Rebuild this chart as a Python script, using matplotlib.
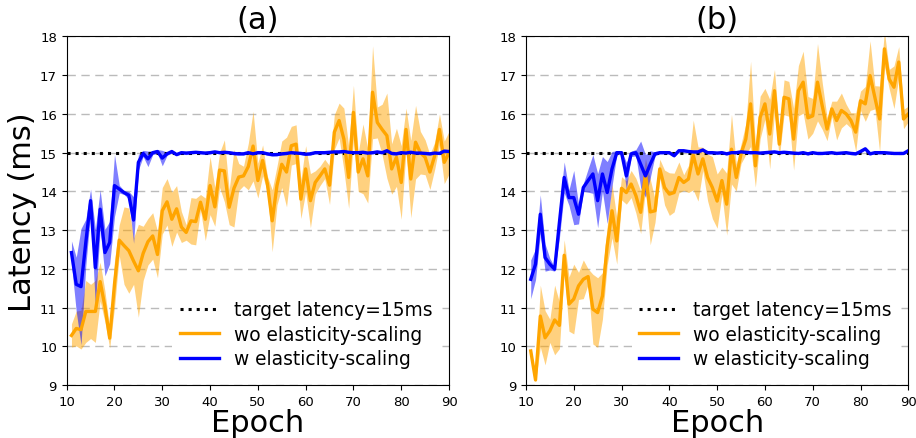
import numpy as np
import matplotlib
matplotlib.use('Agg')
import matplotlib.pyplot as plt

epochs = list(range(11, 91))
target = 15

# panel (a)
a_w = [12.42, 11.6, 11.54, 12.68, 13.76, 12.03, 13.54, 12.42, 12.68, 14.15,
       14.06, 13.97, 13.9, 13.26, 14.75, 14.98, 14.84, 15.0, 15.03, 14.86,
       14.97, 15.03, 14.95, 15.0, 14.99, 15.0, 15.01, 15.0, 14.99, 15.0,
       15.02, 15.0, 15.01, 15.0, 14.98, 14.97, 14.97, 15.0, 14.97, 15.0,
       15.0, 14.97, 14.95, 14.95, 14.97, 14.98, 15.0, 14.99, 14.98, 14.96,
       14.97, 15.0, 15.0, 15.0, 15.01, 15.02, 15.02, 15.03, 15.01, 15.0,
       15.0, 15.01, 14.99, 15.0, 15.02, 15.0, 15.05, 14.98, 14.97, 15.0,
       14.99, 15.01, 14.99, 14.99, 14.98, 14.97, 14.99, 14.98, 15.04, 15.03]
a_w_std = [0.3, 0.7, 1.5, 0.6, 0.3, 1.0, 0.5, 0.6, 0.55, 0.8,
           0.1, 0.05, 0.1, 0.6, 0.2, 0.08, 0.2, 0.05, 0.05, 0.2,
           0.04, 0.04, 0.03, 0.03, 0.04, 0.03, 0.03, 0.03, 0.03, 0.03,
           0.03, 0.03, 0.03, 0.03, 0.04, 0.03, 0.03, 0.03, 0.03, 0.03,
           0.03, 0.04, 0.04, 0.03, 0.03, 0.03, 0.03, 0.03, 0.03, 0.03,
           0.03, 0.03, 0.03, 0.03, 0.03, 0.03, 0.03, 0.04, 0.03, 0.03,
           0.03, 0.03, 0.03, 0.03, 0.03, 0.03, 0.04, 0.03, 0.03, 0.03,
           0.03, 0.03, 0.03, 0.03, 0.03, 0.03, 0.03, 0.03, 0.04, 0.03]
a_wo = [10.28, 10.46, 10.43, 10.9, 10.9, 10.9, 11.67, 11.03, 10.21, 11.6,
        12.74, 12.6, 12.47, 12.2, 11.95, 12.4, 12.7, 12.85, 12.37, 13.5,
        13.73, 13.28, 13.55, 13.08, 12.94, 13.24, 13.22, 13.72, 13.28, 14.15,
        13.6, 14.55, 14.53, 13.59, 14.08, 14.37, 14.4, 14.64, 15.17, 14.28,
        14.8, 14.19, 13.24, 14.15, 14.7, 14.5, 15.18, 15.22, 13.8, 14.58,
        13.76, 14.23, 14.4, 14.58, 14.16, 15.53, 15.83, 15.35, 14.36, 16.04,
        14.5, 14.84, 14.4, 16.56, 15.78, 15.6, 15.44, 14.58, 14.88, 14.23,
        15.6, 14.32, 15.27, 15.0, 14.88, 14.5, 14.92, 15.6, 14.75, 15.0]
a_wo_std = [0.3, 0.45, 0.5, 0.8, 0.7, 0.8, 0.5, 0.4, 0.25, 0.6,
            0.4, 1.0, 1.1, 0.6, 1.2, 0.7, 0.6, 0.6, 0.6, 0.6,
            0.6, 0.7, 0.6, 0.4, 0.2, 0.6, 0.6, 0.2, 0.55, 0.75,
            0.5, 0.45, 0.8, 0.45, 1.0, 0.35, 0.25, 0.6, 0.9, 0.45,
            0.4, 0.2, 0.8, 0.5, 0.6, 0.9, 0.5, 0.5, 0.5, 0.6,
            0.7, 0.3, 0.25, 0.25, 0.5, 0.45, 0.45, 0.8, 0.8, 0.7,
            0.5, 0.9, 0.7, 1.2, 0.4, 0.65, 1.1, 0.65, 0.75, 0.95,
            0.55, 1.0, 0.95, 0.55, 0.45, 0.45, 0.35, 0.4, 0.55, 0.55]

# panel (b)
b_w = [11.73, 12.12, 13.41, 12.29, 12.12, 11.99, 13.2, 14.36, 13.84, 13.84,
       13.41, 14.1, 14.28, 14.45, 13.76, 14.45, 13.97, 14.58, 15.0, 15.0,
       14.4, 14.97, 15.0, 14.7, 14.4, 14.7, 14.97, 15.0, 15.0, 15.0,
       14.92, 15.05, 15.05, 15.03, 15.02, 15.02, 15.07, 15.0, 15.0, 14.99,
       15.0, 14.97, 15.0, 15.0, 15.02, 15.01, 15.0, 15.0, 14.99, 15.0,
       15.01, 15.02, 15.0, 15.01, 15.0, 14.99, 14.98, 15.0, 14.97, 15.0,
       14.98, 14.98, 14.99, 15.0, 14.98, 14.99, 15.0, 14.98, 14.97, 15.03,
       15.1, 14.97, 15.0, 15.0, 15.0, 14.99, 14.98, 14.98, 14.98, 15.05]
b_w_std = [0.5, 0.4, 0.5, 0.35, 0.15, 0.05, 0.4, 0.4, 0.2, 0.7,
           0.25, 0.1, 0.3, 0.5, 0.7, 0.45, 0.8, 0.45, 0.05, 0.05,
           0.35, 0.07, 0.08, 0.6, 0.55, 0.35, 0.05, 0.03, 0.03, 0.03,
           0.03, 0.03, 0.03, 0.03, 0.03, 0.03, 0.03, 0.03, 0.03, 0.03,
           0.03, 0.03, 0.03, 0.03, 0.03, 0.03, 0.03, 0.03, 0.03, 0.03,
           0.03, 0.03, 0.03, 0.03, 0.03, 0.03, 0.03, 0.03, 0.03, 0.03,
           0.03, 0.03, 0.03, 0.03, 0.03, 0.03, 0.03, 0.03, 0.03, 0.03,
           0.03, 0.03, 0.03, 0.03, 0.03, 0.03, 0.03, 0.03, 0.03, 0.03]
b_wo = [9.88, 9.13, 10.78, 10.22, 10.4, 10.68, 10.54, 12.35, 11.09, 11.22,
        11.56, 11.73, 11.8, 10.96, 10.87, 11.3, 12.6, 13.5, 12.72, 14.08,
        13.97, 14.19, 13.89, 13.46, 14.45, 13.47, 13.5, 14.58, 14.1, 13.93,
        13.97, 14.36, 14.23, 14.32, 14.94, 14.45, 14.84, 14.36, 14.1, 13.75,
        14.28, 13.67, 15.09, 14.36, 14.97, 15.35, 16.26, 14.66, 15.91, 16.26,
        15.48, 16.6, 15.22, 16.43, 16.39, 15.35, 16.6, 16.82, 15.9, 15.95,
        16.82, 16.2, 15.61, 16.13, 15.83, 16.09, 16.0, 15.83, 15.53, 16.34,
        16.26, 16.99, 16.43, 15.87, 17.68, 16.9, 16.69, 17.34, 15.87, 16.0]
b_wo_std = [0.1, 0.05, 0.8, 0.7, 0.3, 0.9, 0.6, 0.4, 0.7, 0.9,
            0.35, 0.5, 0.2, 0.9, 0.9, 0.6, 0.5, 0.7, 0.6, 0.3,
            0.3, 0.35, 0.45, 0.55, 0.4, 0.85, 0.3, 0.25, 0.45, 0.55,
            0.5, 0.4, 0.2, 0.35, 0.9, 0.7, 0.3, 0.6, 0.8, 0.7,
            0.35, 0.8, 0.9, 0.35, 0.25, 0.4, 1.1, 0.55, 0.55, 0.4,
            0.9, 0.55, 0.35, 0.45, 0.45, 0.8, 0.65, 0.8, 0.55, 0.45,
            1.0, 0.6, 0.3, 0.2, 0.5, 0.45, 0.25, 0.2, 0.5, 0.25,
            0.45, 0.9, 0.3, 0.85, 0.45, 0.25, 0.55, 0.4, 0.25, 0.2]

panels = [('(a)', a_wo, a_wo_std, a_w, a_w_std),
          ('(b)', b_wo, b_wo_std, b_w, b_w_std)]

fig = plt.figure(figsize=(9.16, 4.39), dpi=100)
lefts = [0.0728, 0.5742]
width = 0.4174

x = np.array(epochs)
for (title, wo, wo_s, w, w_s), left in zip(panels, lefts):
    ax = fig.add_axes([left, 0.1207, width, 0.7939])
    wo = np.array(wo); wo_s = np.array(wo_s)
    w = np.array(w); w_s = np.array(w_s)
    ax.fill_between(x, wo - wo_s, wo + wo_s, color='orange', alpha=0.5, lw=0)
    ax.fill_between(x, w - w_s, w + w_s, color='blue', alpha=0.5, lw=0)
    ax.plot([10, 90], [target, target], 'k:', lw=2.2, label='target latency=15ms')
    ax.plot(x, wo, color='orange', lw=2.4, label='wo elasticity-scaling')
    ax.plot(x, w, color='blue', lw=2.4, label='w elasticity-scaling')
    ax.set_xlim(10, 90)
    ax.set_ylim(9, 18)
    ax.set_xticks(range(10, 91, 10))
    ax.set_yticks(range(9, 19))
    ax.yaxis.grid(True, linestyle=(0, (6, 4)), color='#bbbbbb', lw=1)
    ax.set_axisbelow(True)
    ax.tick_params(labelsize=9.5, length=3.5)
    ax.set_title(title, fontsize=22, pad=6)
    ax.set_xlabel('Epoch', fontsize=22, labelpad=0)
    if title == '(a)':
        ax.set_ylabel('Latency (ms)', fontsize=22, labelpad=2)
    leg = ax.legend(loc='lower right', fontsize=13.4, frameon=True,
                    framealpha=1, edgecolor='none', fancybox=False,
                    handlelength=2.1, labelspacing=0.3)

fig.savefig('out.png', dpi=100)
